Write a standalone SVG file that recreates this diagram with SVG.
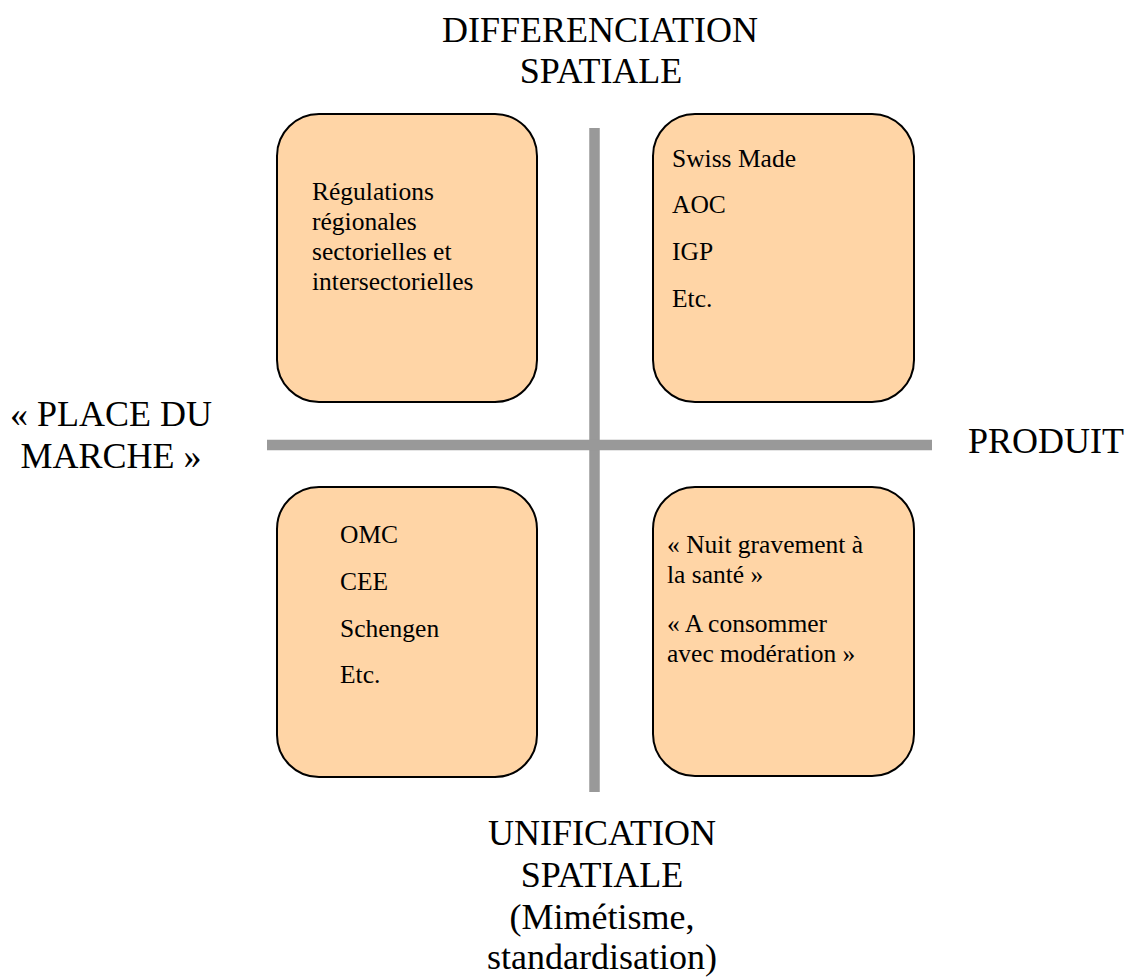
<svg xmlns="http://www.w3.org/2000/svg" width="1128" height="977" viewBox="0 0 1128 977">
<style>
.box{fill:#FFD5A6;stroke:#000;stroke-width:2}
.axis{stroke:#999999;stroke-width:10.5;fill:none}
.lbl{font-size:36px;fill:#000;text-anchor:middle}
.t{font-size:25.5px;fill:#000}
</style>
<rect width="1128" height="977" fill="#fff"/>
<g id="connectors">
<line class="axis" x1="594.5" y1="128" x2="594.5" y2="792"/>
<line class="axis" x1="267" y1="445" x2="932" y2="445"/>
</g>
<g font-family="'Liberation Serif', Tinos, 'Times New Roman', 'DejaVu Serif', serif">
<g id="top-left">
<rect class="box" x="277" y="114" width="260" height="288" rx="42" ry="42"/>
<text class="t" x="312" y="200">Régulations</text>
<text class="t" x="312" y="230">régionales</text>
<text class="t" x="312" y="260">sectorielles et</text>
<text class="t" x="312" y="290">intersectorielles</text>
</g>
<g id="top-right">
<rect class="box" x="653" y="114" width="261" height="288" rx="42" ry="42"/>
<text class="t" x="672" y="167">Swiss Made</text>
<text class="t" x="672" y="213">AOC</text>
<text class="t" x="672" y="260">IGP</text>
<text class="t" x="672" y="307">Etc.</text>
</g>
<g id="bottom-left">
<rect class="box" x="277" y="487" width="260" height="290" rx="42" ry="42"/>
<text class="t" x="340" y="543">OMC</text>
<text class="t" x="340" y="590">CEE</text>
<text class="t" x="340" y="637">Schengen</text>
<text class="t" x="340" y="683">Etc.</text>
</g>
<g id="bottom-right">
<rect class="box" x="653" y="487" width="261" height="289" rx="42" ry="42"/>
<text class="t" x="667" y="553">« Nuit gravement à</text>
<text class="t" x="667" y="583">la santé »</text>
<text class="t" x="667" y="632">« A consommer</text>
<text class="t" x="667" y="662">avec modération »</text>
</g>
<g id="label-top">
<text class="lbl" x="600" y="42">DIFFERENCIATION</text>
<text class="lbl" x="601" y="83">SPATIALE</text>
</g>
<g id="label-left">
<text class="lbl" x="111" y="426">« PLACE DU</text>
<text class="lbl" x="111" y="468">MARCHE »</text>
</g>
<g id="label-right">
<text class="lbl" x="1046" y="453">PRODUIT</text>
</g>
<g id="label-bottom">
<text class="lbl" x="602" y="845">UNIFICATION</text>
<text class="lbl" x="602" y="887">SPATIALE</text>
<text class="lbl" x="602" y="929">(Mimétisme,</text>
<text class="lbl" x="602" y="969">standardisation)</text>
</g>
</g>
</svg>
